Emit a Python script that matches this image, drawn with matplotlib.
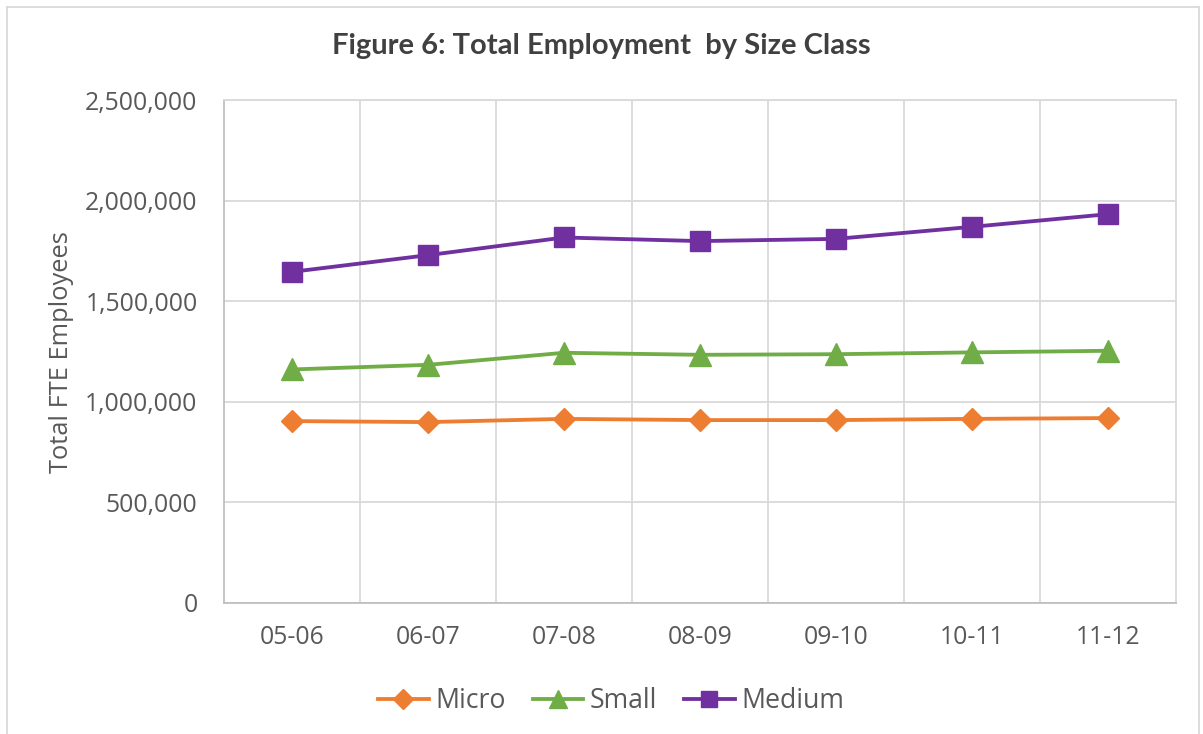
import matplotlib.pyplot as plt
from matplotlib.ticker import FuncFormatter
from matplotlib.lines import Line2D

years = ['05-06', '06-07', '07-08', '08-09', '09-10', '10-11', '11-12']
micro = [904000, 899000, 915000, 909000, 909000, 915000, 919000]
small = [1161000, 1184000, 1244000, 1234000, 1237000, 1246000, 1254000]
medium = [1647000, 1730000, 1818000, 1800000, 1811000, 1871000, 1934000]

plt.rcParams['font.family'] = ['Open Sans', 'DejaVu Sans']
text_col = '#595959'
grid_col = '#D9D9D9'

fig = plt.figure(figsize=(12.03, 7.34), dpi=100)
ax = fig.add_axes([0.1862, 0.1789, 0.7914, 0.6842])

x = list(range(len(years)))
ax.plot(x, micro, color='#ED7D31', lw=2.75, marker='D', ms=11.5, label='Micro')
ax.plot(x, small, color='#70AD47', lw=2.75, marker='^', ms=15.5, label='Small')
ax.plot(x, medium, color='#7030A0', lw=2.75, marker='s', ms=14, label='Medium')

ax.set_xlim(-0.5, len(years) - 0.5)
ax.set_ylim(0, 2500000)
ax.set_yticks(range(0, 2500001, 500000))
ax.yaxis.set_major_formatter(FuncFormatter(lambda v, p: f'{int(v):,}'))
ax.set_xticks(x)
ax.set_xticklabels(years)

# vertical gridlines sit between categories
for b in [i + 0.5 for i in x[:-1]]:
    ax.axvline(b, color=grid_col, lw=1.3, zorder=0)
ax.yaxis.grid(True, color=grid_col, lw=1.3, zorder=0)
ax.set_axisbelow(True)

for side in ['top', 'right', 'left', 'bottom']:
    ax.spines[side].set_color(grid_col)
    ax.spines[side].set_linewidth(1.3)
ax.spines['bottom'].set_color('#BFBFBF')
ax.spines['left'].set_color('#BFBFBF')

ax.tick_params(length=0, labelsize=17.8, colors=text_col)
ax.tick_params(axis='x', pad=16)
ax.tick_params(axis='y', pad=19)
ax.set_ylabel('Total FTE Employees', fontsize=18.4, color=text_col, labelpad=8)

fig.text(0.4995, 0.937, 'Figure 6: Total Employment  by Size Class',
         family=['Lato', 'DejaVu Sans'], ha='center', va='center',
         fontsize=21, fontweight='bold', color='#404040')

ax.legend(loc='center', ncol=3, frameon=False, fontsize=19.2, handlelength=1.9,
          handletextpad=0.25, columnspacing=1.0, markerscale=0.85,
          labelcolor=text_col)
ax.get_legend().set_bbox_to_anchor((0.508, 0.045), transform=fig.transFigure)

# outer chart frame
fw, fh = 1203, 734
for xs, ys in [([7, 7], [0, 727]), ([7, 1199], [727, 727]), ([1199, 1199], [0, 727])]:
    fig.add_artist(Line2D([v / fw for v in xs], [v / fh for v in ys],
                          color=grid_col, lw=1.3))

fig.savefig('out.png', dpi=100)
